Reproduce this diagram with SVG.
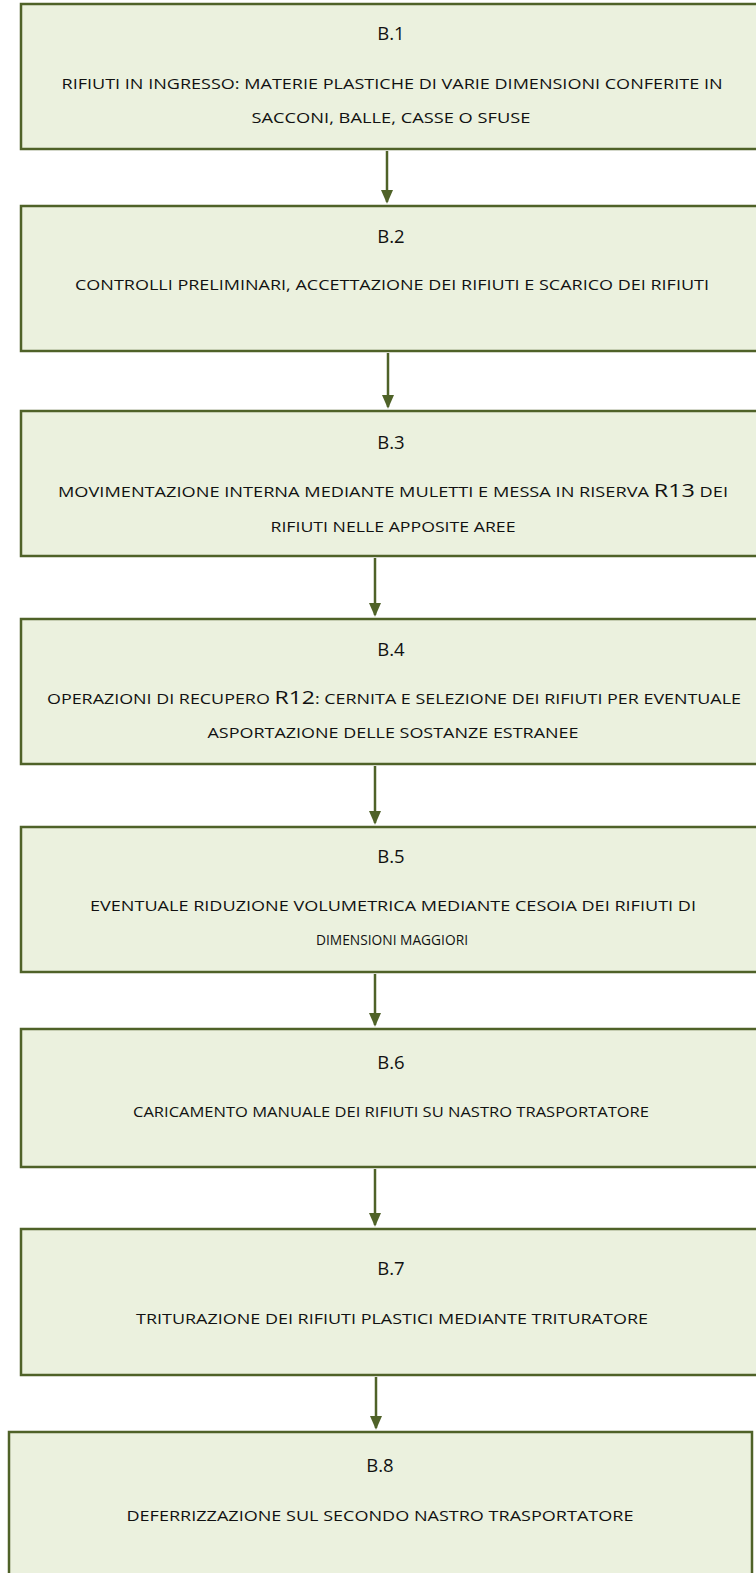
<svg xmlns="http://www.w3.org/2000/svg" width="756" height="1573" viewBox="0 0 756 1573">
<defs>
<style>
.box{fill:#EBF1DE;stroke:#4F6228;stroke-width:2.5}
.hd{font-family:"Open Sans","Liberation Sans",Arial,sans-serif;font-size:18.5px;fill:#111;text-anchor:middle}
.tx{font-family:"Open Sans","Liberation Sans",Arial,sans-serif;font-size:14px;fill:#111;text-anchor:middle}
.big{font-size:18px}
.conn line{stroke:#4F6228;stroke-width:2.5}
</style>
<marker id="ah" markerWidth="14" markerHeight="16" refX="14" refY="7" orient="auto" markerUnits="userSpaceOnUse" viewBox="0 0 16 14">
<path d="M0,0 L16,7 L0,14 z" fill="#4F6228"/>
</marker>
</defs>
<rect width="756" height="1573" fill="#fff"/>
<g id="b1"><rect class="box" x="21" y="4" width="740" height="145"/>
<text class="hd" x="391" y="40">B.1</text>
<text class="tx" x="392" y="89" textLength="661" lengthAdjust="spacingAndGlyphs">RIFIUTI IN INGRESSO: MATERIE PLASTICHE DI VARIE DIMENSIONI CONFERITE IN</text>
<text class="tx" x="391" y="123" textLength="279" lengthAdjust="spacingAndGlyphs">SACCONI, BALLE, CASSE O SFUSE</text></g>
<g id="b2"><rect class="box" x="21" y="206" width="740" height="145"/>
<text class="hd" x="391" y="243">B.2</text>
<text class="tx" x="392" y="290" textLength="634" lengthAdjust="spacingAndGlyphs">CONTROLLI PRELIMINARI, ACCETTAZIONE DEI RIFIUTI E SCARICO DEI RIFIUTI</text></g>
<g id="b3"><rect class="box" x="21" y="411" width="740" height="145"/>
<text class="hd" x="391" y="449">B.3</text>
<text class="tx" x="393" y="497" textLength="670" lengthAdjust="spacingAndGlyphs">MOVIMENTAZIONE INTERNA MEDIANTE MULETTI E MESSA IN RISERVA <tspan class="big">R13</tspan> DEI</text>
<text class="tx" x="393" y="532" textLength="245" lengthAdjust="spacingAndGlyphs">RIFIUTI NELLE APPOSITE AREE</text></g>
<g id="b4"><rect class="box" x="21" y="619" width="740" height="145"/>
<text class="hd" x="391" y="656">B.4</text>
<text class="tx" x="394" y="704" textLength="694" lengthAdjust="spacingAndGlyphs">OPERAZIONI DI RECUPERO <tspan class="big">R12</tspan>: CERNITA E SELEZIONE DEI RIFIUTI PER EVENTUALE</text>
<text class="tx" x="393" y="738" textLength="371" lengthAdjust="spacingAndGlyphs">ASPORTAZIONE DELLE SOSTANZE ESTRANEE</text></g>
<g id="b5"><rect class="box" x="21" y="827" width="740" height="145"/>
<text class="hd" x="391" y="863">B.5</text>
<text class="tx" x="393" y="911" textLength="606" lengthAdjust="spacingAndGlyphs">EVENTUALE RIDUZIONE VOLUMETRICA MEDIANTE CESOIA DEI RIFIUTI DI</text>
<text class="tx" x="392" y="945" textLength="152" lengthAdjust="spacingAndGlyphs">DIMENSIONI MAGGIORI</text></g>
<g id="b6"><rect class="box" x="21" y="1029" width="740" height="138"/>
<text class="hd" x="391" y="1069">B.6</text>
<text class="tx" x="391" y="1117" textLength="516" lengthAdjust="spacingAndGlyphs">CARICAMENTO MANUALE DEI RIFIUTI SU NASTRO TRASPORTATORE</text></g>
<g id="b7"><rect class="box" x="21" y="1229" width="740" height="146"/>
<text class="hd" x="391" y="1275">B.7</text>
<text class="tx" x="392" y="1324" textLength="512" lengthAdjust="spacingAndGlyphs">TRITURAZIONE DEI RIFIUTI PLASTICI MEDIANTE TRITURATORE</text></g>
<g id="b8"><rect class="box" x="9" y="1432" width="743" height="150"/>
<text class="hd" x="380" y="1472">B.8</text>
<text class="tx" x="380" y="1521" textLength="507" lengthAdjust="spacingAndGlyphs">DEFERRIZZAZIONE SUL SECONDO NASTRO TRASPORTATORE</text></g>
<g id="connectors" class="conn">
<line x1="387" y1="151" x2="387" y2="202" marker-end="url(#ah)"/>
<line x1="388" y1="353" x2="388" y2="407" marker-end="url(#ah)"/>
<line x1="375" y1="558" x2="375" y2="615" marker-end="url(#ah)"/>
<line x1="375" y1="766" x2="375" y2="823" marker-end="url(#ah)"/>
<line x1="375" y1="974" x2="375" y2="1025" marker-end="url(#ah)"/>
<line x1="375" y1="1169" x2="375" y2="1225" marker-end="url(#ah)"/>
<line x1="376" y1="1377" x2="376" y2="1428" marker-end="url(#ah)"/>
</g>
</svg>
